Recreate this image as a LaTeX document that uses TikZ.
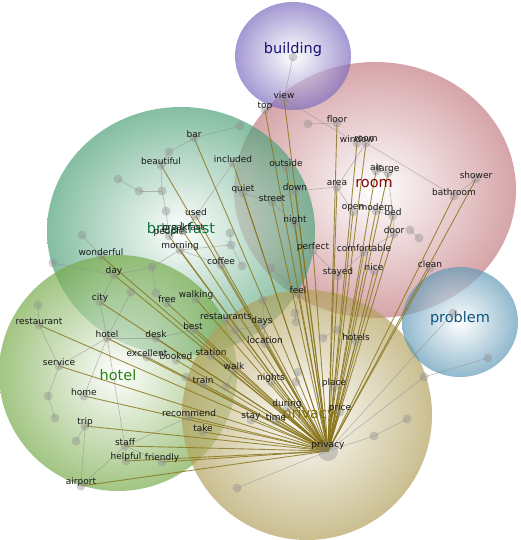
\documentclass[tikz,border=0pt]{standalone}
\usepackage{fontspec}
\setsansfont{DejaVu Sans}
\usetikzlibrary{calc}

\definecolor{bldcol}{RGB}{122,105,190}
\definecolor{roomcol}{RGB}{195,122,128}
\definecolor{bfcol}{RGB}{75,160,118}
\definecolor{htlcol}{RGB}{118,170,72}
\definecolor{prvcol}{RGB}{178,160,92}
\definecolor{prbcol}{RGB}{92,152,182}
\definecolor{tiecol}{RGB}{135,115,25}
\definecolor{bldtxt}{RGB}{25,20,120}
\definecolor{roomtxt}{RGB}{130,10,10}
\definecolor{bftxt}{RGB}{10,120,60}
\definecolor{htltxt}{RGB}{40,130,20}
\definecolor{prvtxt}{RGB}{130,110,10}
\definecolor{prbtxt}{RGB}{15,85,125}

\pgfdeclarelayer{blobs}
\pgfdeclarelayer{ties}
\pgfsetlayers{blobs,ties,main}

% dot with its word just above it
\newcommand{\wordat}[3]{%
  \node[word] (#1) at (#2) {};
  \node[tag] (#1-txt) at ([yshift=4pt]#1.center) {#3};}

\begin{document}
\begin{tikzpicture}[
    x=1pt, y=-1pt,
    every node/.style={font=\sffamily\fontsize{9}{10}\selectfont},
    word/.style={circle, fill=black!45, fill opacity=0.4, minimum size=9pt, inner sep=0pt},
    hubdot/.style={word, minimum size=20pt},
    tag/.style={text=black!90, inner sep=0pt},
    topic/.style={inner sep=0pt, font=\sffamily\fontsize{14.5}{16}\selectfont},
    blob/.style={opacity=0.68, inner color=white},
    tie/.style={draw=tiecol, line width=0.9pt, opacity=0.8},
    link/.style={draw=black!45, line width=0.6pt, opacity=0.55}
]
\useasboundingbox (0,0) rectangle (520,540);

% topic clouds
\begin{pgfonlayer}{blobs}
\fill[white] (0,0) rectangle (520,540);
\shade[blob, outer color=roomcol] (375,190) ellipse [x radius=141pt, y radius=128pt];
\shade[blob, outer color=bfcol]   (181,231) ellipse [x radius=134pt, y radius=124pt];
\shade[blob, outer color=htlcol]  (118,373) ellipse [x radius=119pt, y radius=118pt];
\shade[blob, outer color=prvcol]  (307,415) ellipse [x radius=125pt, y radius=125pt];
\shade[blob, outer color=prbcol]  (460,322) ellipse [x radius=58pt, y radius=55pt];
\shade[blob, outer color=bldcol]  (293,56) ellipse [x radius=58pt, y radius=54pt];
\end{pgfonlayer}

\node[topic, text=bldtxt]  (topic-building)  at (293,50)  {building};
\node[topic, text=roomtxt] (topic-room)      at (374,184) {room};
\node[topic, text=bftxt]   (topic-breakfast) at (181,228) {breakfast};
\node[topic, text=htltxt]  (topic-hotel)     at (118,375) {hotel};
\node[topic, text=prvtxt]  (topic-privacy)   at (309,414) {privacy};
\node[topic, text=prbtxt]  (topic-problem)   at (460,318) {problem};

% words
\node[hubdot] (hub) at (328,451) {};
\node[tag] (hub-txt) at (328,445) {privacy};

\wordat{top}{265,110}{top}
\wordat{view}{284,99}{view}
\wordat{floor}{337,123}{floor}
\wordat{window}{357,143}{window}
\wordat{room}{366,143}{room}
\wordat{air}{376,171}{air}
\wordat{large}{388,173}{large}
\wordat{shower}{476,179}{shower}
\wordat{bathroom}{454,196}{bathroom}
\wordat{outside}{286,167}{outside}
\wordat{quiet}{243,193}{quiet}
\wordat{down}{295,191}{down}
\wordat{street}{272,202}{street}
\wordat{area}{337,187}{area}
\wordat{night}{295,224}{night}
\wordat{open}{353,212}{open}
\wordat{modern}{376,211}{modern}
\wordat{bed}{393,216}{bed}
\wordat{door}{394,234}{door}
\wordat{perfect}{313,251}{perfect}
\wordat{comfortable}{364,252}{comfortable}
\wordat{stayed}{338,276}{stayed}
\wordat{nice}{374,271}{nice}
\wordat{clean}{430,268}{clean}
\wordat{feel}{298,294}{feel}
\wordat{hotels}{356,341}{hotels}
\wordat{place}{334,387}{place}
\wordat{price}{340,412}{price}
\wordat{during}{287,408}{during}
\wordat{time}{276,421}{time}
\wordat{stay}{251,420}{stay}
\wordat{nights}{271,382}{nights}
\wordat{walk}{234,370}{walk}
\wordat{location}{265,344}{location}
\wordat{days}{262,325}{days}
\wordat{restaurants}{226,320}{restaurants}
\wordat{best}{193,330}{best}
\wordat{station}{211,356}{station}
\wordat{train}{203,384}{train}
\wordat{desk}{156,338}{desk}
\wordat{booked}{176,360}{booked}
\wordat{excellent}{147,357}{excellent}
\wordat{hotel}{107,338}{hotel}
\wordat{city}{100,302}{city}
\wordat{day}{114,275}{day}
\wordat{wonderful}{101,256}{wonderful}
\wordat{free}{167,303}{free}
\wordat{walking}{196,299}{walking}
\wordat{morning}{180,250}{morning}
\wordat{people}{169,236}{people}
\wordat{breakfast}{183,231}{breakfast}
\wordat{used}{196,216}{used}
\wordat{coffee}{221,265}{coffee}
\wordat{beautiful}{161,165}{beautiful}
\wordat{bar}{194,138}{bar}
\wordat{included}{233,163}{included}
\wordat{restaurant}{39,325}{restaurant}
\wordat{service}{59,366}{service}
\wordat{home}{84,396}{home}
\wordat{trip}{85,426}{trip}
\wordat{staff}{125,446}{staff}
\wordat{helpful}{126,461}{helpful}
\wordat{friendly}{162,462}{friendly}
\wordat{airport}{81,486}{airport}
\wordat{recommend}{189,417}{recommend}
\wordat{take}{203,432}{take}

% loose dots
\node[word] (d1) at (293,57) {};
\node[word] (d2) at (308,124) {};
\node[word] (d3) at (240,126) {};
\node[word] (d4) at (169,152) {};
\node[word] (d5) at (118,179) {};
\node[word] (d6) at (139,191) {};
\node[word] (d7) at (162,191) {};
\node[word] (d8) at (166,211) {};
\node[word] (d9) at (82,235) {};
\node[word] (d10) at (53,263) {};
\node[word] (d11) at (152,267) {};
\node[word] (d12) at (131,292) {};
\node[word] (d13) at (156,293) {};
\node[word] (d14) at (38,305) {};
\node[word] (d15) at (230,233) {};
\node[word] (d16) at (231,245) {};
\node[word] (d17) at (242,266) {};
\node[word] (d18) at (271,268) {};
\node[word] (d19) at (263,300) {};
\node[word] (d20) at (295,313) {};
\node[word] (d21) at (296,322) {};
\node[word] (d22) at (323,338) {};
\node[word] (d23) at (337,330) {};
\node[word] (d24) at (410,230) {};
\node[word] (d25) at (419,238) {};
\node[word] (d26) at (48,396) {};
\node[word] (d27) at (55,418) {};
\node[word] (d28) at (76,441) {};
\node[word] (d29) at (298,372) {};
\node[word] (d30) at (296,382) {};
\node[word] (d31) at (237,488) {};
\node[word] (d32) at (374,436) {};
\node[word] (d33) at (407,419) {};
\node[word] (d34) at (424,377) {};
\node[word] (d35) at (453,313) {};
\node[word] (d36) at (488,358) {};
\node[word] (d37) at (186,377) {};
\node[word] (d38) at (226,387) {};
\node[word] (d39) at (235,330) {};

\begin{pgfonlayer}{ties}
% grey co-occurrence links
\foreach \a/\b in {d1/view, view/window, d2/floor, room/bathroom, room/area,
    area/down, down/street, street/quiet, street/night, area/open, modern/bed,
    air/large, large/bed, bed/door, door/comfortable, d24/d25, bathroom/shower,
    perfect/stayed, stayed/comfortable, d18/feel, feel/d20, d20/d21, d22/d23,
    d23/hotels, bar/d3, bar/d4, d4/beautiful, d5/d6, d6/d7, beautiful/d7, d7/d8,
    d8/people, used/included, used/breakfast, morning/d11, morning/coffee,
    morning/d16, d15/d16, d16/d17, d11/d13, d9/wonderful, d10/day, day/city,
    day/d11, d12/hotel, city/hotel, d14/restaurant, restaurant/service,
    service/hotel, service/d26, d26/d27, hotel/desk, hotel/excellent, hotel/staff,
    home/hotel, trip/airport, trip/d28, airport/staff, staff/recommend,
    staff/helpful, staff/friendly, hub/d31, hub/d32, d32/d33, hub/d34, hub/d35,
    d34/d36, d29/d30, desk/best, d37/train, walk/station, days/location,
    d19/location, d39/days, d38/walk}
  \draw[link] (\a.center) -- (\b.center);
% privacy ties
\foreach \w in {top, view, floor, window, room, air, large, shower, bathroom,
    clean, nice, comfortable, bed, modern, open, area, perfect, stayed, night,
    street, down, outside, quiet, included, bar, beautiful, used, breakfast,
    people, morning, coffee, wonderful, day, city, free, walking, restaurants,
    best, desk, booked, excellent, hotel, restaurant, service, home, trip, staff,
    helpful, friendly, airport, recommend, take, stay, time, during, nights,
    walk, train, station, location, days, hotels, place, price, feel, door}
  \draw[tie] (hub.center) -- (\w.center);
\end{pgfonlayer}
\end{tikzpicture}
\end{document}
